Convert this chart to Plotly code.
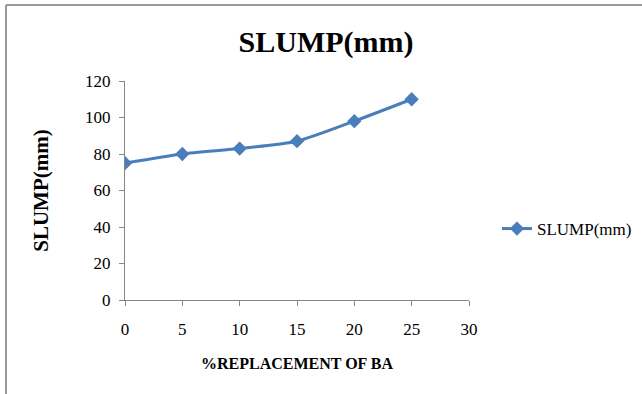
import plotly.graph_objects as go

replacement = [0, 5, 10, 15, 20, 25]
slump = [75, 80, 83, 87, 98, 110]
series_name = "SLUMP(mm)"
x_ticks = [0, 5, 10, 15, 20, 25, 30]
y_ticks = [0, 20, 40, 60, 80, 100, 120]

W, H = 642, 394
ML, MR, MT, MB = 125, 173, 81, 94
pw = W - ML - MR
ph = H - MT - MB

def px_to_paper_x(px):
    return (px - ML) / pw

def px_to_paper_y(py):
    return (H - MB - py) / ph

serif = "Liberation Serif, Times New Roman, serif"
axis_col = "#868686"

fig = go.Figure()
fig.add_trace(go.Scatter(
    x=replacement, y=slump, name=series_name, mode="lines+markers",
    line=dict(color="#4a7ebb", width=3, shape="spline", smoothing=0.6),
    marker=dict(symbol="diamond", size=11, color="#4a7ebb"),
))

fig.update_layout(
    width=W, height=H,
    margin=dict(l=ML, r=MR, t=MT, b=MB, autoexpand=False),
    paper_bgcolor="white", plot_bgcolor="white",
    font=dict(family=serif, size=16, color="black"),
    title=dict(text="<b>SLUMP(mm)</b>", font=dict(family=serif, size=30, color="black"),
               x=px_to_paper_x(326), xref="paper", xanchor="center",
               y=1 - 41 / H, yanchor="middle"),
    showlegend=True,
    legend=dict(x=px_to_paper_x(497), y=px_to_paper_y(229), xanchor="left", yanchor="middle",
                font=dict(family=serif, size=17, color="black"), bgcolor="rgba(0,0,0,0)"),
    xaxis=dict(range=[0, 30], tickvals=x_ticks, ticktext=[str(v) for v in x_ticks],
               showgrid=False, zeroline=False, showline=True, linecolor=axis_col, linewidth=1,
               ticks="outside", ticklen=5, tickcolor=axis_col,
               tickfont=dict(family=serif, size=17, color="black"), ticklabelstandoff=9,
               title=dict(text="<b>%REPLACEMENT OF BA</b>", font=dict(family=serif, size=16, color="black"),
                          standoff=19)),
    yaxis=dict(range=[0, 120], tickvals=y_ticks, ticktext=[str(v) for v in y_ticks],
               showgrid=False, zeroline=False, showline=True, linecolor=axis_col, linewidth=1,
               ticks="outside", ticklen=5, tickcolor=axis_col,
               tickfont=dict(family=serif, size=17, color="black"), ticklabelstandoff=5,
               title=dict(text="<b>SLUMP(mm)</b>", font=dict(family=serif, size=21, color="black"),
                          standoff=30)),
)

# chart frame (top and left edges visible)
fig.add_shape(type="line", xref="paper", yref="paper",
              x0=px_to_paper_x(6), x1=px_to_paper_x(W + 5), y0=px_to_paper_y(5), y1=px_to_paper_y(5),
              line=dict(color="#9a9a9a", width=2))
fig.add_shape(type="line", xref="paper", yref="paper",
              x0=px_to_paper_x(6), x1=px_to_paper_x(6), y0=px_to_paper_y(5), y1=px_to_paper_y(H + 5),
              line=dict(color="#9a9a9a", width=2))

fig.write_html("out.html")
